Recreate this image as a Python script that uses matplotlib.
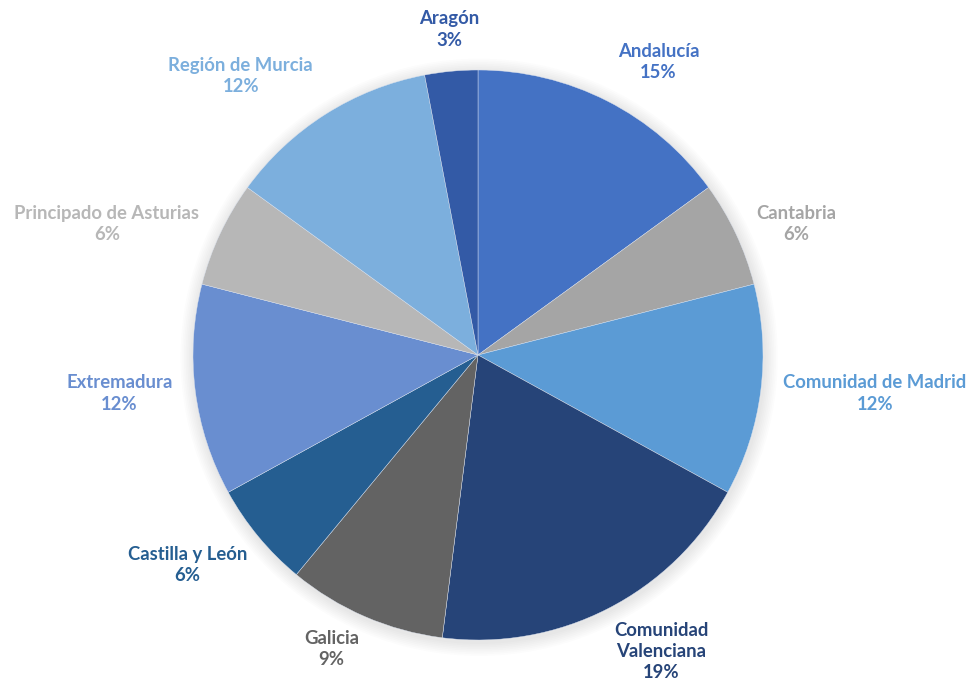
import numpy as np
import matplotlib
matplotlib.use("Agg")
import matplotlib.pyplot as plt

regions = ["Andalucía", "Cantabria", "Comunidad de Madrid", "Comunidad\nValenciana",
           "Galicia", "Castilla y León", "Extremadura", "Principado de Asturias",
           "Región de Murcia", "Aragón"]
shares = [15, 6, 12, 19, 9, 6, 12, 6, 12, 3]
colors = ["#4472C4", "#A5A5A5", "#5B9BD5", "#264478", "#636363",
          "#255E91", "#698ED0", "#B7B7B7", "#7CAFDD", "#335AA6"]

W, H = 970, 689
fig = plt.figure(figsize=(W / 100, H / 100), dpi=100)
cx, cy, R = 478, 689 - 355, 285
span = 1.25
ax = fig.add_axes([(cx - span * R) / W, (cy - span * R) / H, 2 * span * R / W, 2 * span * R / H])
ax.set_xlim(-span, span)
ax.set_ylim(-span, span)
ax.axis("off")

# soft drop shadow behind the pie
for k in range(8):
    ax.add_patch(plt.Circle((0.004, -0.008), 1.0 + 0.006 * (8 - k), color="black",
                            alpha=0.012, lw=0, zorder=0))

wedges, _ = ax.pie(shares, colors=colors, startangle=90, counterclock=False,
                   radius=1.0, wedgeprops=dict(linewidth=0.3, edgecolor="#dde4f0"))
for w in wedges:
    w.set_zorder(2)

total = sum(shares)
cum = 0
for name, v, c in zip(regions, shares, colors):
    mid = (cum + v / 2) / total * 2 * np.pi
    cum += v
    s, co = np.sin(mid), np.cos(mid)
    r = 1.08 if co > -0.5 else 1.05
    ha = "left" if s > 0.1 else ("right" if s < -0.1 else "center")
    va = "bottom" if co > 0.5 else ("top" if co < -0.5 else "center")
    ax.text(r * s, r * co, f"{name}\n{v}%", ha=ha, va=va, multialignment="center",
            color=c, fontsize=13.3, fontweight="bold", family=["Lato", "DejaVu Sans"],
            linespacing=1.3, zorder=3)

fig.savefig("out.png", dpi=100)
